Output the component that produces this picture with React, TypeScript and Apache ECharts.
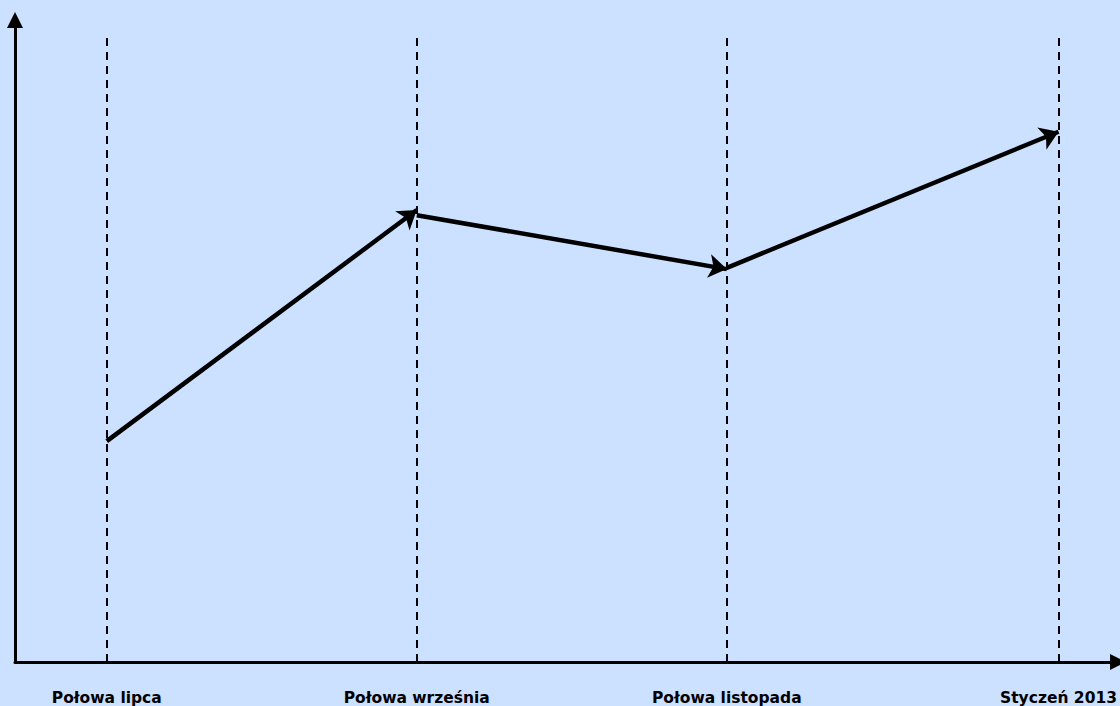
import React, { useEffect, useRef } from "react";
import * as echarts from "echarts";

const categories = ["Połowa lipca", "Połowa września", "Połowa listopada", "Styczeń 2013"];
const categoryX = [0, 1, 2, 3.07];
// arrow segments run from categoryX[i] to categoryX[i+1]
const segStartY = [34.4, 69.6, 61.4];
const segEndY = [70.4, 61.2, 82.6];
const dashedTop = 97.2;

export default function App() {
  const ref = useRef<HTMLDivElement>(null);
  useEffect(() => {
    document.body.style.margin = "0";
    const chart = echarts.init(ref.current!, null, { renderer: "svg" });
    const segments = segStartY.map((y0, i) => ({
      coords: [
        [categoryX[i], y0],
        [categoryX[i + 1], segEndY[i]],
      ],
    }));
    const dashed = categoryX.map((x) => ({ coords: [[x, 0], [x, dashedTop]] }));
    chart.setOption({
      animation: false,
      backgroundColor: "#cce0ff",
      grid: { left: 15, right: 0, top: 20, bottom: 44 },
      xAxis: {
        type: "value",
        min: -0.296,
        max: 3.262,
        splitLine: { show: false },
        axisTick: { show: false },
        axisLine: {
          onZero: false,
          lineStyle: { color: "#000", width: 3 },
          symbol: ["none", "triangle"],
          symbolSize: [16, 16],
        },
        axisLabel: {
          customValues: categoryX,
          formatter: (v: number) => {
            const i = categoryX.findIndex((c) => Math.abs(c - v) < 1e-6);
            return i >= 0 ? categories[i] : "";
          },
          color: "#000",
          fontFamily: "DejaVu Sans",
          fontWeight: "bold",
          fontSize: 15.5,
          margin: 28,
        },
      },
      yAxis: {
        type: "value",
        min: 0,
        max: 100,
        splitLine: { show: false },
        axisTick: { show: false },
        axisLabel: { show: false },
        axisLine: {
          show: true,
          onZero: false,
          lineStyle: { color: "#000", width: 3 },
          symbol: ["none", "triangle"],
          symbolSize: [16, 16],
        },
      },
      series: [
        {
          type: "lines",
          coordinateSystem: "cartesian2d",
          data: dashed,
          symbol: ["none", "none"],
          lineStyle: { color: "#000", width: 2, type: [8, 6], opacity: 1 },
          silent: true,
        },
        {
          type: "lines",
          coordinateSystem: "cartesian2d",
          data: segments,
          symbol: ["none", "arrow"],
          symbolSize: [16, 18],
          lineStyle: { color: "#000", width: 4.5, opacity: 1 },
          silent: true,
        },
      ],
    });
    return () => chart.dispose();
  }, []);
  return <div ref={ref} style={{ width: 1120, height: 706 }} />;
}
